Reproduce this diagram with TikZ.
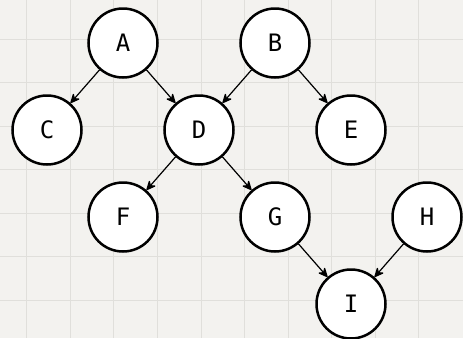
\documentclass[tikz,border=0pt]{standalone}
\usepackage{fontspec}
\newfontfamily\nodefont{DejaVu Sans Mono}
\usepackage{xcolor}
\usetikzlibrary{positioning,arrows.meta}
\definecolor{paper}{HTML}{F3F2EF}
\definecolor{gridgray}{HTML}{E0DFDB}

\begin{document}
\begin{tikzpicture}[->, >={Stealth[round, length=11pt, width=10pt]}, node distance=87pt and 76pt, on grid, main/.style = {circle, draw, line width=2.5pt, fill=white, minimum size=69pt, inner sep=0pt, font=\nodefont\fontsize{24}{24}\selectfont}, every edge/.append style={line width=1.2pt}, paperline/.style={-, gridgray, line width=1pt}]

% squared paper behind the graph
\path[use as bounding box, fill=paper] (-123pt,43pt) rectangle (340pt,-295pt);
\foreach \i in {0,...,9}
  \draw[paperline] ({-96pt+\i*43.5pt},43pt) -- ({-96pt+\i*43.5pt},-295pt);
\foreach \j in {0,...,6}
  \draw[paperline] (-123pt,{4pt-\j*43.5pt}) -- (340pt,{4pt-\j*43.5pt});

\node[main] (a) {A};
\node[main] (b) [right=152pt of a] {B};
\node[main] (c) [below left=of a] {C};
\node[main] (d) [below right=of a] {D};
\node[main] (e) [below right=of b] {E};
\node[main] (f) [below left=of d] {F};
\node[main] (g) [below right=of d] {G};
\node[main] (i) [below right=of g] {I};
\node[main] (h) [above right=of i] {H};

\path 
    (a) edge (c)
    (a) edge (d)
    (b) edge (d)
    (b) edge (e)
    (d) edge (f)
    (d) edge (g)
    (g) edge (i)
    (h) edge (i);
\end{tikzpicture}
\end{document}
